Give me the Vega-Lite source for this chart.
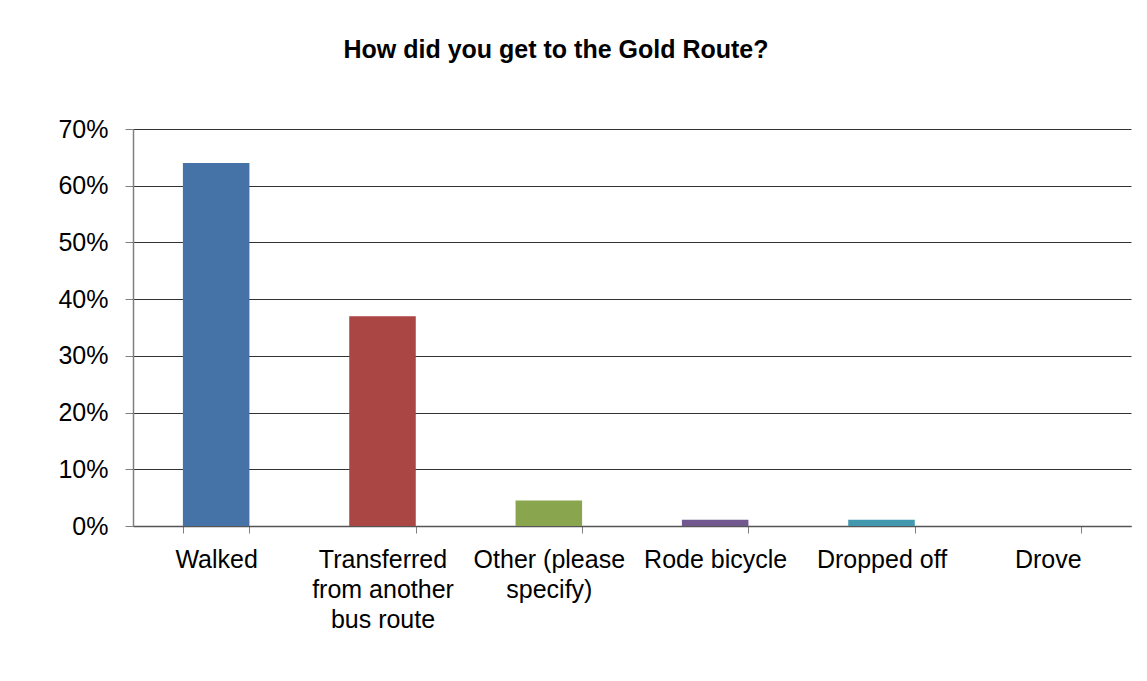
{
  "$schema": "https://vega.github.io/schema/vega-lite/v6.json",
  "autosize": "none",
  "width": 998,
  "height": 397,
  "padding": {"left": 133, "top": 129, "right": 16, "bottom": 155},
  "background": "white",
  "title": {
    "text": "How did you get to the Gold Route?",
    "font": "Liberation Sans",
    "fontSize": 25,
    "fontWeight": "bold",
    "color": "#000000",
    "anchor": "middle",
    "frame": "group",
    "dx": -76,
    "baseline": "alphabetic",
    "offset": 34
  },
  "data": {
    "values": [
      {"mode": "Walked", "share": 0.64},
      {"mode": "Transferred from another bus route", "share": 0.37},
      {"mode": "Other (please specify)", "share": 0.045},
      {"mode": "Rode bicycle", "share": 0.011},
      {"mode": "Dropped off", "share": 0.011},
      {"mode": "Drove", "share": 0.0}
    ]
  },
  "mark": {"type": "bar"},
  "encoding": {
    "x": {
      "field": "mode",
      "type": "nominal",
      "sort": null,
      "scale": {"paddingInner": 0.6, "paddingOuter": 0.3},
      "axis": {
        "title": null,
        "labelAngle": 0,
        "labelFont": "Liberation Sans",
        "labelFontSize": 25,
        "labelColor": "#000000",
        "labelLineHeight": 30,
        "labelPadding": 14,
        "labelLimit": 300,
        "tickBand": "extent",
        "tickSize": 7,
        "tickColor": "#808080",
        "domainColor": "#555555",
        "domainWidth": 1.5,
        "labelExpr": "datum.value == 'Transferred from another bus route' ? ['Transferred', 'from another', 'bus route'] : datum.value == 'Other (please specify)' ? ['Other (please', 'specify)'] : datum.label"
      }
    },
    "y": {
      "field": "share",
      "type": "quantitative",
      "scale": {"domain": [0, 0.7], "nice": false},
      "axis": {
        "title": null,
        "values": [0, 0.1, 0.2, 0.3, 0.4, 0.5, 0.6, 0.7],
        "format": ".0%",
        "labelFont": "Liberation Sans",
        "labelFontSize": 25,
        "labelColor": "#000000",
        "labelPadding": 17,
        "tickSize": 8,
        "tickColor": "#808080",
        "domainColor": "#808080",
        "domainWidth": 1.5,
        "grid": true,
        "gridColor": "#333333",
        "gridWidth": 1
      }
    },
    "color": {
      "field": "mode",
      "type": "nominal",
      "legend": null,
      "scale": {
        "domain": ["Walked", "Transferred from another bus route", "Other (please specify)", "Rode bicycle", "Dropped off", "Drove"],
        "range": ["#4572A7", "#AA4643", "#89A54E", "#71588F", "#4198AF", "#DB843D"]
      }
    }
  },
  "config": {"view": {"stroke": null}}
}
